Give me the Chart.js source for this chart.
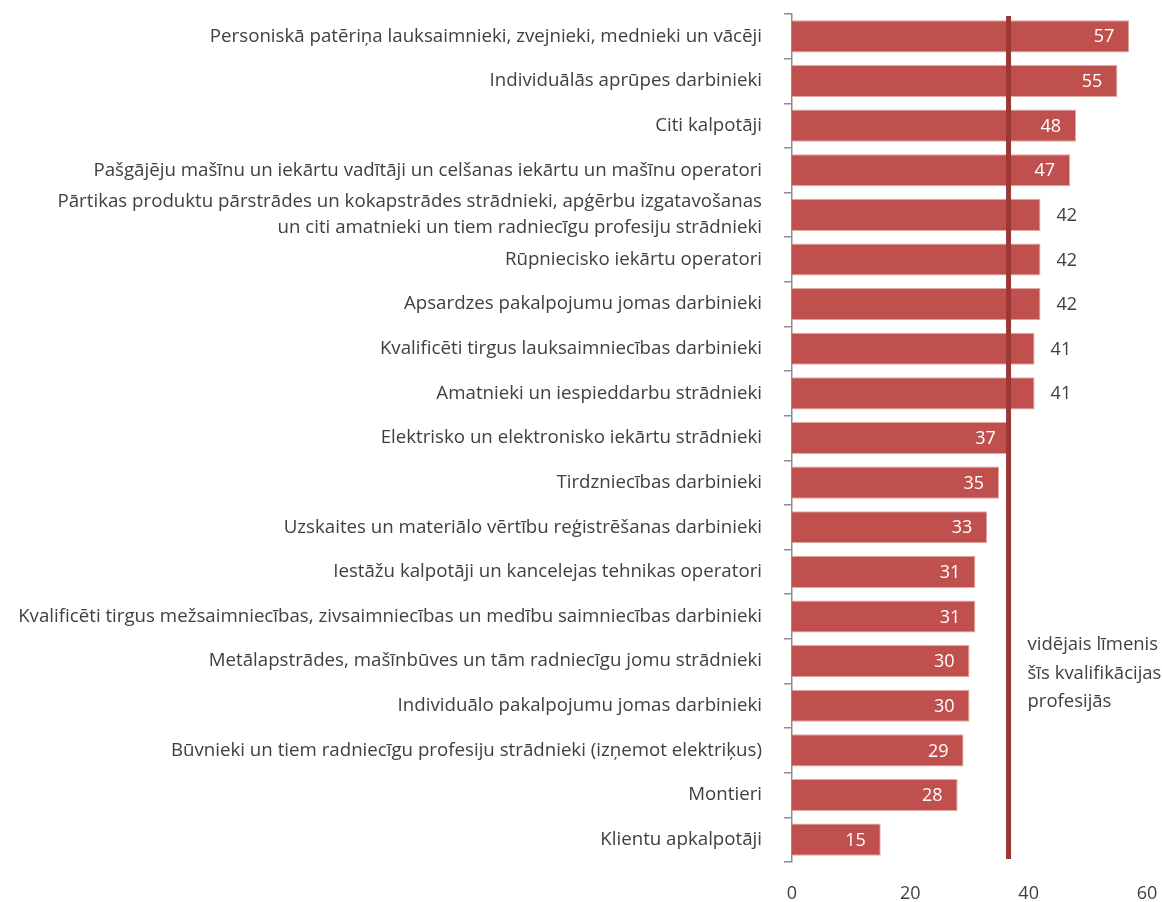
<!DOCTYPE html>
<html>
<head>
<meta charset="utf-8">
<script src="https://cdn.jsdelivr.net/npm/chart.js@4"></script>
<style>
  html, body { margin: 0; padding: 0; background: #fff; }
  #wrap { width: 1162px; height: 902px; }
</style>
</head>
<body>
<div id="wrap"><canvas id="chart"></canvas></div>
<script>
// Professions and their values
const professions = [
    'Personiskā patēriņa lauksaimnieki, zvejnieki, mednieki un vācēji',
    'Individuālās aprūpes darbinieki',
    'Citi kalpotāji',
    'Pašgājēju mašīnu un iekārtu vadītāji un celšanas iekārtu un mašīnu operatori',
    ['Pārtikas produktu pārstrādes un kokapstrādes strādnieki, apģērbu izgatavošanas',
     'un citi amatnieki un tiem radniecīgu profesiju strādnieki'],
    'Rūpniecisko iekārtu operatori',
    'Apsardzes pakalpojumu jomas darbinieki',
    'Kvalificēti tirgus lauksaimniecības darbinieki',
    'Amatnieki un iespieddarbu strādnieki',
    'Elektrisko un elektronisko iekārtu strādnieki',
    'Tirdzniecības darbinieki',
    'Uzskaites un materiālo vērtību reģistrēšanas darbinieki',
    'Iestāžu kalpotāji un kancelejas tehnikas operatori',
    'Kvalificēti tirgus mežsaimniecības, zivsaimniecības un medību saimniecības darbinieki',
    'Metālapstrādes, mašīnbūves un tām radniecīgu jomu strādnieki',
    'Individuālo pakalpojumu jomas darbinieki',
    'Būvnieki un tiem radniecīgu profesiju strādnieki (izņemot elektriķus)',
    'Montieri',
    'Klientu apkalpotāji'
];
const values = [57, 55, 48, 47, 42, 42, 42, 41, 41, 37, 35, 33, 31, 31, 30, 30, 29, 28, 15];
const averageLevel = 36.6;
const averageNote = ['vidējais līmenis', 'šīs kvalifikācijas', 'profesijās'];
const xTicks = [0, 20, 40, 60];

const FONT = '"Open Sans", "Noto Sans", sans-serif';
const TEXT = '#404040';
const BAR = '#c0504d';
const AVG = '#9b3836';

// Vertical average line with its note, plus value labels at the bar ends
const overlayPlugin = {
    id: 'overlay',
    afterDatasetsDraw(chart) {
        const ctx = chart.ctx;
        const area = chart.chartArea;
        const x = chart.scales.x;
        const avgX = x.getPixelForValue(averageLevel);

        ctx.save();
        ctx.strokeStyle = AVG;
        ctx.lineWidth = 5;
        ctx.beginPath();
        ctx.moveTo(avgX, area.top + 2);
        ctx.lineTo(avgX, area.bottom - 3);
        ctx.stroke();

        ctx.font = '18px ' + FONT;
        ctx.textBaseline = 'middle';
        const bars = chart.getDatasetMeta(0).data;
        bars.forEach((bar, i) => {
            const label = String(values[i]);
            const w = ctx.measureText(label).width;
            const right = bar.x - 15;
            const left = right - w;
            // move the label outside when it would sit on the average line
            const hitsLine = left < avgX + 4 && right > avgX - 4;
            if (hitsLine) {
                ctx.fillStyle = TEXT;
                ctx.textAlign = 'left';
                ctx.fillText(label, bar.x + 16, bar.y + 1);
            } else {
                ctx.fillStyle = '#ffffff';
                ctx.textAlign = 'right';
                ctx.fillText(label, right, bar.y + 1);
            }
        });

        ctx.font = '18.5px ' + FONT;
        ctx.fillStyle = TEXT;
        ctx.textAlign = 'left';
        averageNote.forEach((line, i) => {
            ctx.fillText(line, avgX + 19, 645 + i * 28.5);
        });
        ctx.restore();
    }
};

const ctx = document.getElementById('chart').getContext('2d');
new Chart(ctx, {
    type: 'bar',
    data: {
        labels: professions,
        datasets: [{
            data: values,
            backgroundColor: BAR,
            borderColor: '#e2a9a7',
            borderWidth: 1,
            borderSkipped: 'left',
            categoryPercentage: 1,
            barPercentage: 0.72
        }]
    },
    options: {
        indexAxis: 'y',
        responsive: true,
        maintainAspectRatio: false,
        animation: false,
        layout: { padding: { top: 14, right: 15, left: 0, bottom: 0 } },
        plugins: {
            legend: { display: false },
            tooltip: { enabled: false }
        },
        scales: {
            x: {
                min: 0,
                max: 60,
                afterBuildTicks: s => { s.ticks = xTicks.map(v => ({ value: v })); },
                afterFit: s => {
                    s.height = 40;
                    s.paddingLeft = 0;
                    s.paddingRight = 0;
                },
                grid: { display: false, drawTicks: false },
                border: { display: false },
                ticks: {
                    padding: 21,
                    color: TEXT,
                    font: { family: FONT, size: 18 }
                }
            },
            y: {
                afterFit: s => {
                    s.width = 792;
                    s.paddingTop = 0;
                    s.paddingBottom = 0;
                },
                grid: {
                    offset: true,
                    drawOnChartArea: false,
                    drawTicks: true,
                    tickLength: 8,
                    color: '#8c8c8c',
                    lineWidth: 1.5
                },
                border: { display: true, color: '#8c8c8c', width: 1.5 },
                ticks: {
                    padding: 22,
                    color: TEXT,
                    autoSkip: false,
                    font: { family: FONT, size: 18.7, lineHeight: 1.4 }
                }
            }
        }
    },
    plugins: [overlayPlugin]
});
</script>
</body>
</html>
